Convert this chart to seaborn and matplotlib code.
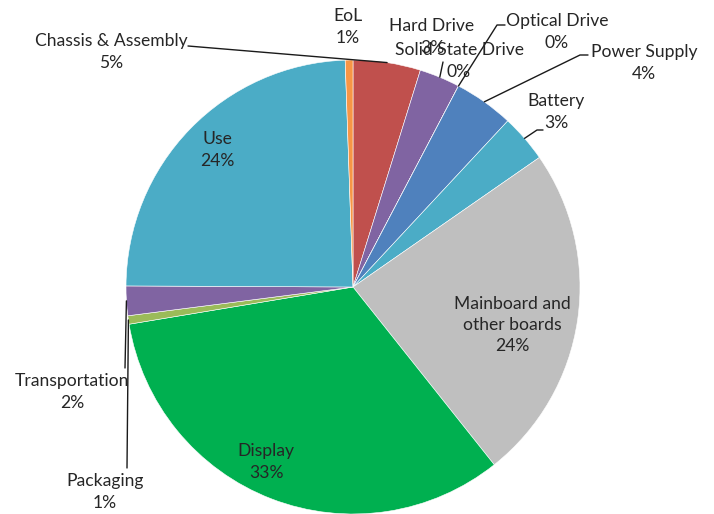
import numpy as np
import matplotlib
matplotlib.use("Agg")
import matplotlib.pyplot as plt
import seaborn as sns

# ==================== data ====================
categories = ["Chassis & Assembly", "Hard Drive", "Solid State Drive", "Optical Drive",
              "Power Supply", "Battery", "Mainboard and\nother boards", "Display",
              "Packaging", "Transportation", "Use", "EoL"]
shares = [4.8, 2.9, 0.0, 0.0, 4.25, 3.4, 24.0, 33.1, 0.6, 2.1, 24.4, 0.55]
colors = ["#C0504D", "#8064A2", "#9BBB59", "#F79646", "#4F81BD", "#4BACC6",
          "#BFBFBF", "#00B050", "#9BBB59", "#8064A2", "#4BACC6", "#F79646"]

# ==================== layout (pixels in a 714x514 picture) ====================
W, H = 714, 514
cx, cy, R = 353, 287, 227

# label block centres
label_px = {
    "Chassis & Assembly": (111, 52),
    "Hard Drive": (432, 37),
    "Solid State Drive": (459, 61),
    "Optical Drive": (557, 32),
    "Power Supply": (644, 63),
    "Battery": (556, 112),
    "Mainboard and\nother boards": (512, 325),
    "Display": (266, 462),
    "Packaging": (105, 492),
    "Transportation": (72, 392),
    "Use": (217, 150),
    "EoL": (348, 27),
}
# leader line bends / ends (the start is the wedge's outer edge)
leader_px = {
    "Chassis & Assembly": [(188, 46)],
    "Hard Drive": [(443, 62)],
    "Optical Drive": [(497, 25), (505, 25)],
    "Power Supply": [(580, 55), (588, 55)],
    "Battery": [(537, 130), (543, 130)],
    "Transportation": [(125, 368)],
    "Packaging": [(127, 468)],
}


def to_data(p):
    return ((p[0] - cx) / R, (cy - p[1]) / R)


sns.set_theme(style="white")
plt.rcParams['font.family'] = ['Lato', 'DejaVu Sans']

fig = plt.figure(figsize=(W / 100, H / 100), dpi=100)
ax = fig.add_axes([0, 0, 1, 1])

total = sum(shares)
wedges, _ = ax.pie(shares, colors=colors, startangle=90, counterclock=False,
                   radius=1.0, wedgeprops=dict(edgecolor="white", linewidth=0.4))

ax.set_xlim(-cx / R, (W - cx) / R)
ax.set_ylim((cy - H) / R, cy / R)
ax.set_aspect("equal")
ax.axis("off")

for w, name, v in zip(wedges, categories, shares):
    pct = f"{round(v / total * 100):.0f}%"
    x, y = to_data(label_px[name])
    ax.text(x, y, f"{name}\n{pct}", ha="center", va="center", fontsize=12.6,
            color="#262626", linespacing=1.42)
    if name in leader_px:
        mid = np.deg2rad((w.theta1 + w.theta2) / 2)
        pts = [(np.cos(mid) * w.r, np.sin(mid) * w.r)] + [to_data(p) for p in leader_px[name]]
        xs, ys = zip(*pts)
        ax.plot(xs, ys, color="#1a1a1a", linewidth=1.0, clip_on=False)

fig.savefig("out.png", dpi=100)
